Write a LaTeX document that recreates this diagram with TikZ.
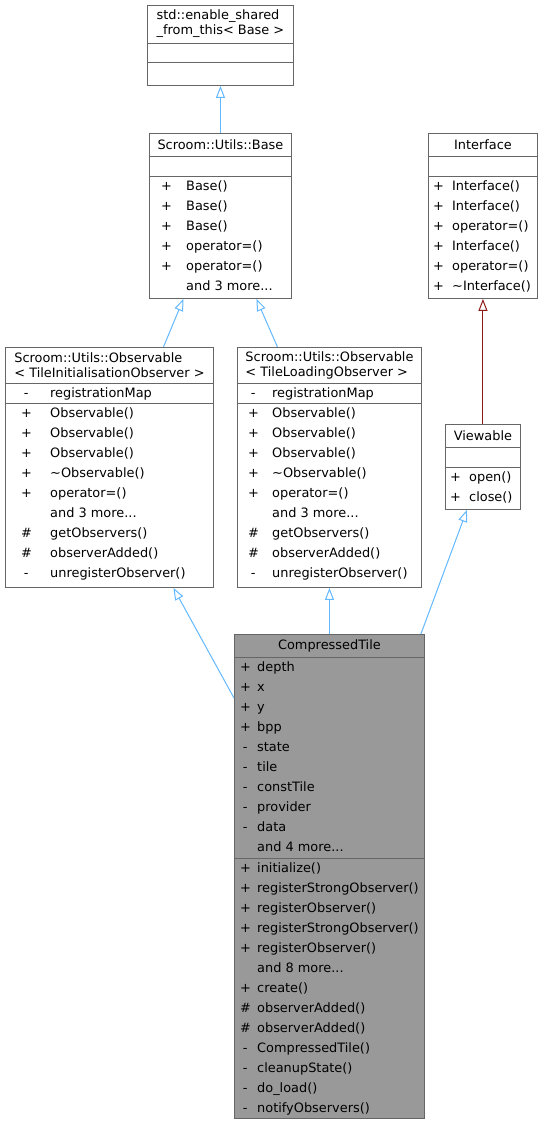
\documentclass[tikz,border=0pt]{standalone}
\usepackage{fontspec}
\setmainfont{DejaVu Sans}
\usepackage{array}
\usetikzlibrary{arrows.meta}
\newcolumntype{V}{>{\centering\arraybackslash}p{10pt}}
\definecolor{edgeblue}{HTML}{63B8FF}
\definecolor{edgered}{HTML}{8B1A1A}
\definecolor{boxline}{HTML}{666666}
\definecolor{boxgray}{HTML}{999999}
\tikzset{
  cls/.style={draw=boxline,line width=0.9pt,fill=white,rectangle,anchor=north west,inner sep=0pt},
  sep/.style={draw=boxline,line width=0.9pt},
  title/.style={align=left,inner sep=0pt,font=\fontsize{12.9pt}{15pt}\selectfont},
  members/.style={anchor=north west,inner sep=0pt,font=\fontsize{12.9pt}{20pt}\selectfont},
  inh/.style={draw=edgeblue,line width=1pt,-{Triangle[open,length=12pt,width=9pt]}},
  inhred/.style={inh,draw=edgered}
}

\begin{document}
\begin{tikzpicture}[x=1pt,y=-1pt]
\useasboundingbox (0,0) rectangle (542,1125);

% top of the hierarchy
\node[cls,minimum width=146pt,minimum height=80pt] (shared) at (147,5) {};
\draw[sep] ([yshift=-38pt]shared.north west) -- ([yshift=-38pt]shared.north east);
\draw[sep] ([yshift=-57pt]shared.north west) -- ([yshift=-57pt]shared.north east);
\node[title] (sharedT) at ([yshift=-19pt]shared.north) {std::enable\_shared\\\_from\_this< Base >};

\node[cls,minimum width=142pt,minimum height=165pt] (base) at (149,133) {};
\draw[sep] ([yshift=-23pt]base.north west) -- ([yshift=-23pt]base.north east);
\draw[sep] ([yshift=-43pt]base.north west) -- ([yshift=-43pt]base.north east);
\node[title] (baseT) at ([yshift=-11.5pt]base.north) {Scroom::Utils::Base};
\node[members] (baseM) at ([xshift=12pt,yshift=-43pt]base.north west) {%
\begin{tabular}{@{}V@{\hspace{15pt}}l@{}}
+ & Base()\\
+ & Base()\\
+ & Base()\\
+ & operator=()\\
+ & operator=()\\
  & and 3 more...
\end{tabular}};

\node[cls,minimum width=109pt,minimum height=165pt] (iface) at (428,133) {};
\draw[sep] ([yshift=-23pt]iface.north west) -- ([yshift=-23pt]iface.north east);
\draw[sep] ([yshift=-43pt]iface.north west) -- ([yshift=-43pt]iface.north east);
\node[title] (ifaceT) at ([yshift=-11.5pt]iface.north) {Interface};
\node[members] (ifaceM) at ([xshift=5pt,yshift=-43pt]iface.north west) {%
\begin{tabular}{@{}V@{\hspace{9pt}}l@{}}
+ & Interface()\\
+ & Interface()\\
+ & operator=()\\
+ & Interface()\\
+ & operator=()\\
+ & \textasciitilde Interface()
\end{tabular}};

% observables
\node[cls,minimum width=208pt,minimum height=240pt] (obsInit) at (5,347) {};
\draw[sep] ([yshift=-36pt]obsInit.north west) -- ([yshift=-36pt]obsInit.north east);
\draw[sep] ([yshift=-56pt]obsInit.north west) -- ([yshift=-56pt]obsInit.north east);
\node[title] (obsInitT) at ([yshift=-18pt]obsInit.north) {Scroom::Utils::Observable\\< TileInitialisationObserver >};
\node[members] (obsInitA) at ([xshift=16pt,yshift=-36pt]obsInit.north west) {%
\begin{tabular}{@{}V@{\hspace{19pt}}l@{}}
- & registrationMap
\end{tabular}};
\node[members] (obsInitM) at ([xshift=16pt,yshift=-56pt]obsInit.north west) {%
\begin{tabular}{@{}V@{\hspace{19pt}}l@{}}
+ & Observable()\\
+ & Observable()\\
+ & Observable()\\
+ & \textasciitilde Observable()\\
+ & operator=()\\
  & and 3 more...\\
\# & getObservers()\\
\# & observerAdded()\\
- & unregisterObserver()
\end{tabular}};

\node[cls,minimum width=184pt,minimum height=240pt] (obsLoad) at (237,347) {};
\draw[sep] ([yshift=-36pt]obsLoad.north west) -- ([yshift=-36pt]obsLoad.north east);
\draw[sep] ([yshift=-56pt]obsLoad.north west) -- ([yshift=-56pt]obsLoad.north east);
\node[title] (obsLoadT) at ([yshift=-18pt]obsLoad.north) {Scroom::Utils::Observable\\< TileLoadingObserver >};
\node[members] (obsLoadA) at ([xshift=11pt,yshift=-36pt]obsLoad.north west) {%
\begin{tabular}{@{}V@{\hspace{14pt}}l@{}}
- & registrationMap
\end{tabular}};
\node[members] (obsLoadM) at ([xshift=11pt,yshift=-56pt]obsLoad.north west) {%
\begin{tabular}{@{}V@{\hspace{14pt}}l@{}}
+ & Observable()\\
+ & Observable()\\
+ & Observable()\\
+ & \textasciitilde Observable()\\
+ & operator=()\\
  & and 3 more...\\
\# & getObservers()\\
\# & observerAdded()\\
- & unregisterObserver()
\end{tabular}};

\node[cls,minimum width=75pt,minimum height=85pt] (view) at (445,424) {};
\draw[sep] ([yshift=-23pt]view.north west) -- ([yshift=-23pt]view.north east);
\draw[sep] ([yshift=-43pt]view.north west) -- ([yshift=-43pt]view.north east);
\node[title] (viewT) at ([yshift=-11.5pt]view.north) {Viewable};
\node[members] (viewM) at ([xshift=5pt,yshift=-43pt]view.north west) {%
\begin{tabular}{@{}V@{\hspace{9pt}}l@{}}
+ & open()\\
+ & close()
\end{tabular}};

% the class itself
\node[cls,fill=boxgray,minimum width=190pt,minimum height=484pt] (tile) at (234,634) {};
\draw[sep] ([yshift=-23pt]tile.north west) -- ([yshift=-23pt]tile.north east);
\draw[sep] ([yshift=-224pt]tile.north west) -- ([yshift=-224pt]tile.north east);
\node[title] (tileT) at ([yshift=-11.5pt]tile.north) {CompressedTile};
\node[members] (tileA) at ([xshift=6pt,yshift=-23pt]tile.north west) {%
\begin{tabular}{@{}V@{\hspace{7pt}}l@{}}
+ & depth\\
+ & x\\
+ & y\\
+ & bpp\\
- & state\\
- & tile\\
- & constTile\\
- & provider\\
- & data\\
  & and 4 more...
\end{tabular}};
\node[members] (tileM) at ([xshift=6pt,yshift=-224pt]tile.north west) {%
\begin{tabular}{@{}V@{\hspace{7pt}}l@{}}
+ & initialize()\\
+ & registerStrongObserver()\\
+ & registerObserver()\\
+ & registerStrongObserver()\\
+ & registerObserver()\\
  & and 8 more...\\
+ & create()\\
\# & observerAdded()\\
\# & observerAdded()\\
- & CompressedTile()\\
- & cleanupState()\\
- & do\_load()\\
- & notifyObservers()
\end{tabular}};

% inheritance
\draw[inh] (base.north) -- (shared.south);
\draw[inh] ([xshift=54pt]obsInit.north) -- ([xshift=-37pt]base.south);
\draw[inh] ([xshift=-52pt]obsLoad.north) -- ([xshift=36pt]base.south);
\draw[inh] ([yshift=-64pt]tile.north west) -- ([xshift=64pt]obsInit.south);
\draw[inh] (tile.north) -- (obsLoad.south);
\draw[inh] ([xshift=-4pt]tile.north east) -- ([xshift=-16pt]view.south);
\draw[inhred] (view.north) -- (iface.south);
\end{tikzpicture}
\end{document}
